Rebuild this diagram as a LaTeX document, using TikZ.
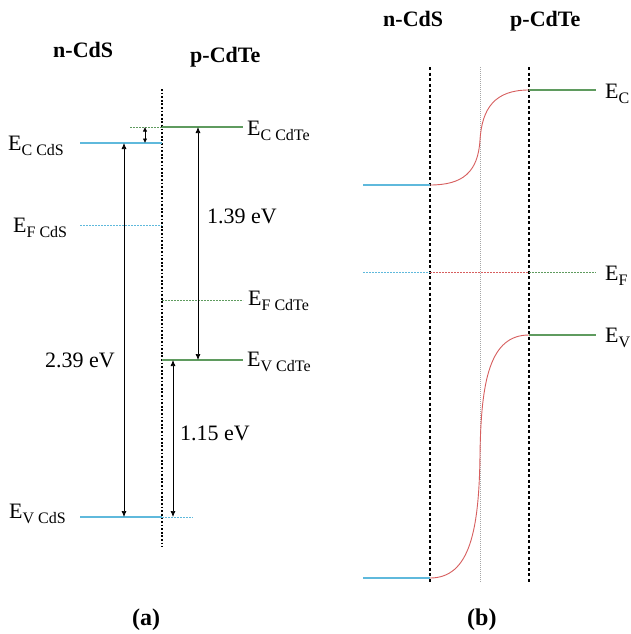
\documentclass[tikz,border=0pt]{standalone}
\usepackage{fontspec}
\setmainfont{Liberation Serif}
\usetikzlibrary{arrows.meta}
\definecolor{lvblue}{RGB}{95,185,220}
\definecolor{lvgreen}{RGB}{95,155,95}
\definecolor{lvred}{RGB}{215,95,95}
\newcommand{\lvlab}[1]{E\raisebox{-5pt}{\fontsize{16}{16}\selectfont #1}}
\begin{document}
\begin{tikzpicture}[x=1pt,y=-1pt,
  font=\fontsize{22}{26}\selectfont,
  lbl/.style={anchor=base west, inner sep=0pt},
  ttl/.style={anchor=base west, inner sep=0pt, font=\fontsize{22}{26}\selectfont\bfseries},
  captxt/.style={anchor=base west, inner sep=0pt, font=\fontsize{24}{28}\selectfont\bfseries},
  junc/.style={line width=1.8pt, dash pattern=on 1.8pt off 1.8pt},
  bdry/.style={line width=1.8pt, dash pattern=on 3pt off 2.5pt},
  midl/.style={gray!70, line width=0.6pt, dash pattern=on 1pt off 1pt},
  dimarr/.style={line width=0.7pt, {Latex[length=6pt,width=5pt]}-{Latex[length=6pt,width=5pt]}},
  smallarr/.style={line width=0.7pt, {Latex[length=4.5pt,width=4.5pt]}-{Latex[length=4.5pt,width=4.5pt]}},
  cband/.style={line width=1.2pt},
  fband/.style={line width=1pt, dash pattern=on 2pt off 1pt}]
\useasboundingbox (0,0) rectangle (630,634);
\fill[white] (0,0) rectangle (630,634);

% ---------- panel (a) ----------
\node[ttl] (tna) at (53,57) {n-CdS};
\node[ttl] (tpa) at (190,63) {p-CdTe};
\coordinate (jt) at (162,89);
\coordinate (jb) at (162,547);
\draw[junc] (jt) -- (jb);

% levels
\coordinate (ecs0) at (80,143);  \coordinate (ecs1) at (162,143);
\coordinate (ect0) at (162,127); \coordinate (ect1) at (243,127);
\coordinate (ectx) at (130,127);
\coordinate (efs0) at (80,225);  \coordinate (efs1) at (162,225);
\coordinate (eft0) at (162,300); \coordinate (eft1) at (243,300);
\coordinate (evt0) at (162,360); \coordinate (evt1) at (243,360);
\coordinate (evs0) at (80,517);  \coordinate (evs1) at (162,517);
\coordinate (evsx) at (193,517);

\draw[cband,lvblue] (ecs0) -- (ecs1);
\draw[cband,lvgreen] (ect0) -- (ect1);
\draw[fband,lvgreen] (ectx) -- (ect0);
\draw[fband,lvblue] (efs0) -- (efs1);
\draw[fband,lvgreen] (eft0) -- (eft1);
\draw[cband,lvgreen] (evt0) -- (evt1);
\draw[cband,lvblue] (evs0) -- (evs1);
\draw[fband,lvblue] (evs1) -- (evsx);

% arrows
\coordinate (a1t) at (124,143); \coordinate (a1b) at (124,517);
\coordinate (a2t) at (198,127); \coordinate (a2b) at (198,360);
\coordinate (a3t) at (173,360); \coordinate (a3b) at (173,517);
\coordinate (a4t) at (145,127); \coordinate (a4b) at (145,143);
\draw[dimarr] (a1t) -- (a1b);
\draw[dimarr] (a2t) -- (a2b);
\draw[dimarr] (a3t) -- (a3b);
\draw[smallarr] (a4t) -- (a4b);

% labels
\node[lbl] (lecs) at (8,150) {\lvlab{C CdS}};
\node[lbl] (lect) at (247,135) {\lvlab{C CdTe}};
\node[lbl] (lefs) at (13,232) {\lvlab{F CdS}};
\node[lbl] (left) at (248,305) {\lvlab{F CdTe}};
\node[lbl] (levt) at (247,366) {\lvlab{V CdTe}};
\node[lbl] (levs) at (9,518) {\lvlab{V CdS}};
\node[lbl] (g1) at (45,367) {2.39 eV};
\node[lbl] (g2) at (207,223) {1.39 eV};
\node[lbl] (g3) at (180,440) {1.15 eV};
\node[captxt] (capa) at (132,625) {(a)};

% ---------- panel (b) ----------
\node[ttl] (tnb) at (383,27) {n-CdS};
\node[ttl] (tpb) at (510,27) {p-CdTe};
\coordinate (bl0) at (430,67); \coordinate (bl1) at (430,583);
\coordinate (br0) at (529,67); \coordinate (br1) at (529,583);
\coordinate (bm0) at (480,67); \coordinate (bm1) at (480,583);
\draw[midl] (bm0) -- (bm1);
\draw[bdry] (bl0) -- (bl1);
\draw[bdry] (br0) -- (br1);

% conduction band
\coordinate (bc0) at (363,185); \coordinate (bc1) at (430,185);
\coordinate (bcm) at (480,140);
\coordinate (bc2) at (529,90);  \coordinate (bc3) at (596,90);
\draw[cband,lvblue] (bc0) -- (bc1);
\draw[line width=0.9pt,lvred] (bc1) .. controls (463,185) and (478,172) .. (bcm)
  .. controls (482,108) and (495,90) .. (bc2);
\draw[cband,lvgreen] (bc2) -- (bc3);

% Fermi level
\coordinate (bf0) at (363,272); \coordinate (bf1) at (430,272);
\coordinate (bf2) at (529,272); \coordinate (bf3) at (596,272);
\draw[fband,lvblue] (bf0) -- (bf1);
\draw[fband,lvred] (bf1) -- (bf2);
\draw[fband,lvgreen] (bf2) -- (bf3);

% valence band
\coordinate (bv0) at (363,578); \coordinate (bv1) at (430,578);
\coordinate (bvm) at (480,455);
\coordinate (bv2) at (529,335); \coordinate (bv3) at (596,335);
\draw[cband,lvblue] (bv0) -- (bv1);
\draw[line width=0.9pt,lvred] (bv1) .. controls (470,578) and (479,530) .. (bvm)
  .. controls (481,380) and (490,335) .. (bv2);
\draw[cband,lvgreen] (bv2) -- (bv3);

\node[lbl] (lbc) at (605,98) {\lvlab{C}};
\node[lbl] (lbf) at (605,280) {\lvlab{F}};
\node[lbl] (lbv) at (605,342) {\lvlab{V}};
\node[captxt] (capb) at (467,625) {(b)};
\end{tikzpicture}
\end{document}
